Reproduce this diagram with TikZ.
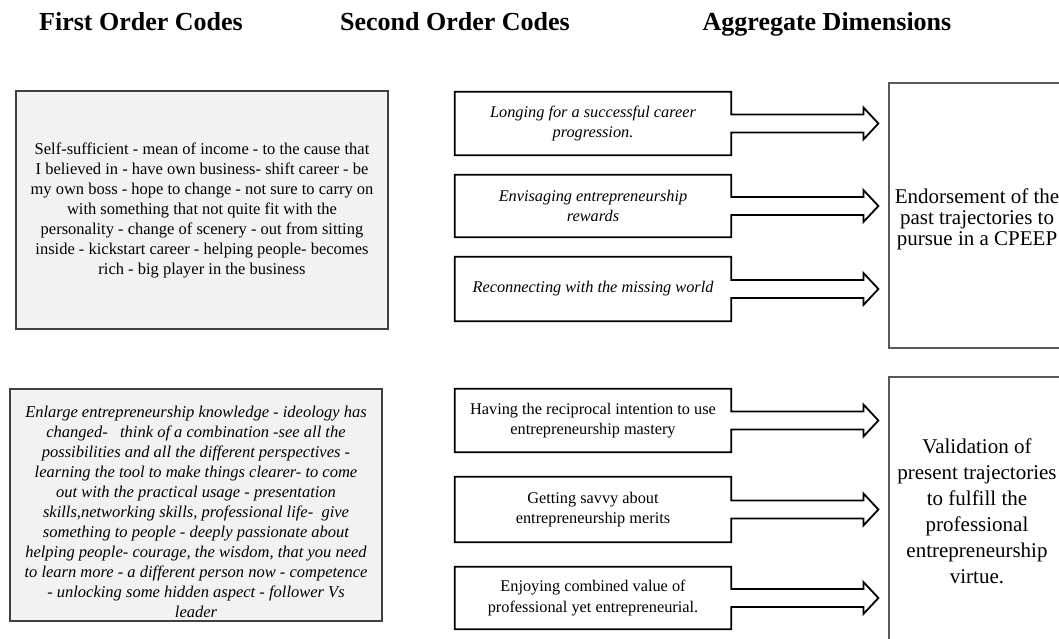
\documentclass[tikz,border=0pt]{standalone}
\usepackage{fontspec}
\setmainfont{Liberation Serif}
\usepackage{tikz}
\usetikzlibrary{calc}

\begin{document}
\begin{tikzpicture}[x=1pt,y=-1pt,
            heading/.style={font=\fontsize{26}{30}\selectfont\bfseries,anchor=base},
            firstcode/.style={draw=black!75,fill=black!5,line width=1.2pt,align=center,inner sep=0pt,
              minimum width=372pt,font=\fontsize{16.5}{20}\selectfont},
            firstcodeit/.style={firstcode,font=\fontsize{16.5}{20}\selectfont\itshape},
            secondcode/.style={inner sep=0pt,align=center,minimum width=276pt,
              font=\fontsize{16.3}{20.5}\selectfont},
            secondcodeit/.style={secondcode,font=\fontsize{16.3}{20.5}\selectfont\itshape},
            aggregate/.style={draw=black!65,line width=1.2pt,align=center,inner sep=0pt,
              minimum width=176pt,font=\fontsize{21}{26}\selectfont},
            callout/.style={draw,line width=1.8pt,line join=miter,to path={
              (\tikztostart.north west) -- (\tikztostart.north east)
              -- ($(\tikztostart.east)+(0,-9)$) -- ($(\tikztotarget.west|-\tikztostart.east)+(-25,-9)$)
              -- ++(0,-7) -- ($(\tikztotarget.west|-\tikztostart.east)+(-10,0)$)
              -- ++(-15,16) -- ++(0,-7) -- ($(\tikztostart.east)+(0,9)$)
              -- (\tikztostart.south east) -- (\tikztostart.south west) -- cycle}}
          ]
          \useasboundingbox (0,0) rectangle (1059,639);
          \clip (0,0) rectangle (1059,639);

          %headings
          \node[heading] (h1) at (141,31) {First Order Codes};
          \node[heading] (h2) at (455,31) {Second Order Codes};
          \node[heading] (h3) at (827,31) {Aggregate Dimensions};

          %first order codes
          \node[firstcode,minimum height=238pt] (f1) at (202,210) {Self-sufficient - mean of income - to the cause that\\
            I believed in - have own business- shift career - be\\
            my own boss - hope to change - not sure to carry on\\
            with something that not quite fit with the\\
            personality - change of scenery - out from sitting\\
            inside - kickstart career - helping people- becomes\\
            rich - big player in the business};
          \node[firstcodeit,minimum height=232pt] (f2) at (196,505) {\rule{0pt}{26pt}Enlarge entrepreneurship knowledge - ideology has\\
            changed-\ \ \ think of a combination -see all the\\
            possibilities and all the different perspectives -\\
            learning the tool to make things clearer- to come\\
            out with the practical usage - presentation\\
            skills,networking skills, professional life-\ \ give\\
            something to people - deeply passionate about\\
            helping people- courage, the wisdom, that you need\\
            to learn more - a different person now - competence\\
            - unlocking some hidden aspect - follower Vs\\
            leader};

          %second order codes
          \node[secondcodeit,minimum height=63pt] (s1) at (593,123.5) {Longing for a successful career\\progression.};
          \node[secondcodeit,minimum height=62pt] (s2) at (593,206) {Envisaging entrepreneurship\\rewards};
          \node[secondcodeit,minimum height=64pt] (s3) at (593,289) {Reconnecting with the missing world};
          \node[secondcode,minimum height=63pt] (s4) at (593,420.5) {Having the reciprocal intention to use\\entrepreneurship mastery};
          \node[secondcode,minimum height=65pt] (s5) at (593,509.5) {Getting savvy about\\entrepreneurship merits};
          \node[secondcode,minimum height=62pt] (s6) at (593,598) {Enjoying combined value of\\professional yet entrepreneurial.};

          %aggregate dimensions
          \node[aggregate,minimum height=265pt,font=\fontsize{21}{21}\selectfont] (a1) at (977,215.5) {\rule{0pt}{22pt}Endorsement of the\\past trajectories to\\pursue in a CPEEP};
          \node[aggregate,minimum height=268pt] (a2) at (977,511) {Validation of\\present trajectories\\to fulfill the\\professional\\entrepreneurship\\virtue.};

          %arrows
          \path
          (s1) edge[callout] (a1)
          (s2) edge[callout] (a1)
          (s3) edge[callout] (a1)
          (s4) edge[callout] (a2)
          (s5) edge[callout] (a2)
          (s6) edge[callout] (a2)
          ;

      \end{tikzpicture}
\end{document}
